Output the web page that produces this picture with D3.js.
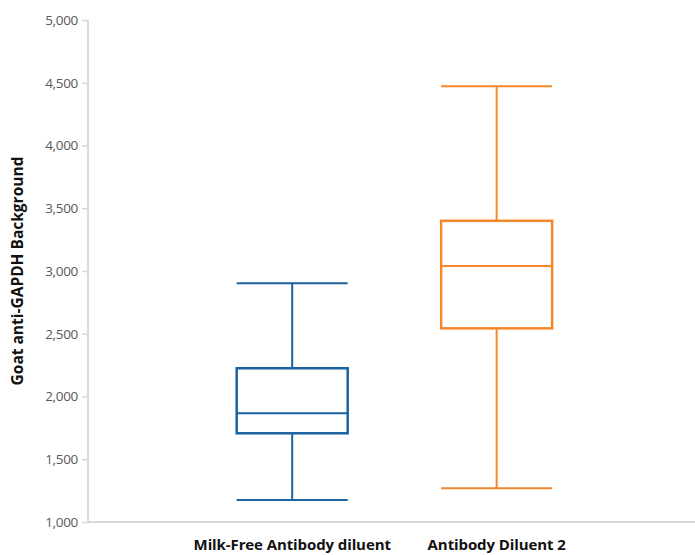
<!DOCTYPE html>
<html><head><meta charset="utf-8">
<script src="https://cdn.jsdelivr.net/npm/d3@7"></script>
<style>body{margin:0;background:#fff}svg{display:block}</style>
</head><body>
<script>
const categories = ["Milk-Free Antibody diluent", "Antibody Diluent 2"];
const whiskerLow  = [1175, 1268];
const q1          = [1707, 2543];
const median      = [1866, 3040];
const q3          = [2225, 3400];
const whiskerHigh = [2902, 4472];
const colors = ["#1a62a0", "#f5862a"];
const yTicks = [1000, 1500, 2000, 2500, 3000, 3500, 4000, 4500, 5000];

const W = 695, H = 555;
const svg = d3.select("body").append("svg").attr("width", W).attr("height", H);
const y = d3.scaleLinear().domain([1000, 5000]).range([522, 20]);
const x = d3.scaleBand().domain(categories).range([88, 695]).paddingInner(0.457).paddingOuter(0.713).align(0.51);

const axisColor = "#d9d9d9";
const ya = svg.append("g").attr("transform", "translate(88,0)")
  .call(d3.axisLeft(y).tickValues(yTicks).tickFormat(d3.format(",")).tickSize(6).tickPadding(4));
ya.select(".domain").attr("stroke", axisColor).attr("stroke-width", 2).attr("d", `M0,${y(5000)}V${y(1000)}`);
ya.selectAll(".tick line").attr("stroke", axisColor).attr("stroke-width", 1.5);
ya.selectAll(".tick text").attr("fill", "#595959").style("font-family", "'Open Sans', sans-serif").style("font-size", "13.5px").style("letter-spacing", "-0.3px");
const xa = svg.append("g").attr("transform", `translate(0,${y(1000)})`)
  .call(d3.axisBottom(x).tickSize(0).tickPadding(17));
xa.select(".domain").attr("stroke", axisColor).attr("stroke-width", 2).attr("d", `M88,0H695`);
xa.selectAll(".tick text").attr("fill", "#111").style("font-family", "'Open Sans', sans-serif").style("font-size", "15px").style("font-weight", "bold").style("letter-spacing", "-0.1px");

svg.append("text").attr("transform", `translate(23,${y(3000)}) rotate(-90)`)
  .attr("text-anchor", "middle").style("font-family", "'Open Sans', sans-serif").style("font-size", "15.5px")
  .style("font-weight", "bold").attr("fill", "#111").text("Goat anti-GAPDH Background");

const g = svg.append("g");
categories.forEach((c, i) => {
  const x0 = x(c), bw = x.bandwidth(), cx = x0 + bw / 2;
  const col = colors[i];
  const gg = g.append("g").attr("stroke", col).attr("fill", "none");
  gg.append("line").attr("x1", cx).attr("x2", cx).attr("y1", y(whiskerHigh[i])).attr("y2", y(q3[i])).attr("stroke-width", 2);
  gg.append("line").attr("x1", cx).attr("x2", cx).attr("y1", y(q1[i])).attr("y2", y(whiskerLow[i])).attr("stroke-width", 2);
  gg.append("line").attr("x1", x0).attr("x2", x0 + bw).attr("y1", y(whiskerHigh[i])).attr("y2", y(whiskerHigh[i])).attr("stroke-width", 2);
  gg.append("line").attr("x1", x0).attr("x2", x0 + bw).attr("y1", y(whiskerLow[i])).attr("y2", y(whiskerLow[i])).attr("stroke-width", 2);
  gg.append("rect").attr("x", x0).attr("width", bw).attr("y", y(q3[i])).attr("height", y(q1[i]) - y(q3[i])).attr("stroke-width", 2.5).attr("fill", "#fff");
  gg.append("line").attr("x1", x0).attr("x2", x0 + bw).attr("y1", y(median[i])).attr("y2", y(median[i])).attr("stroke-width", 2);
});
</script>
</body></html>
